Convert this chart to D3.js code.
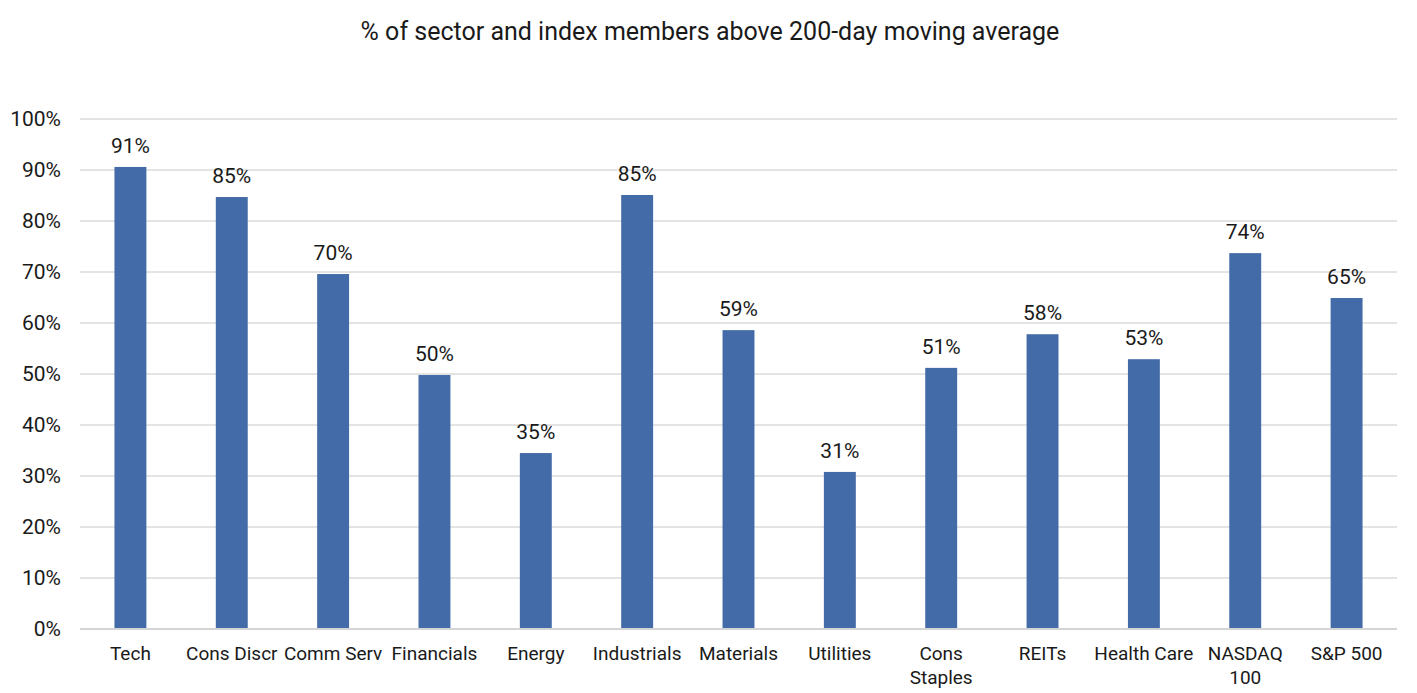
<!DOCTYPE html>
<html>
<head>
<meta charset="utf-8">
<script src="https://cdn.jsdelivr.net/npm/d3@7"></script>
<style>
  body { margin: 0; background: #fff; }
  text { font-family: Roboto, "Noto Sans", sans-serif; fill: #1a1a1a; }
</style>
</head>
<body>
<svg id="chart" width="1417" height="693"></svg>
<script>
// data
const categories = ["Tech", "Cons Discr", "Comm Serv", "Financials", "Energy", "Industrials",
  "Materials", "Utilities", "Cons Staples", "REITs", "Health Care", "NASDAQ 100", "S&P 500"];
// split labels for the two-line ones
const catLines = [["Tech"], ["Cons Discr"], ["Comm Serv"], ["Financials"], ["Energy"], ["Industrials"],
  ["Materials"], ["Utilities"], ["Cons", "Staples"], ["REITs"], ["Health Care"], ["NASDAQ", "100"], ["S&P 500"]];
const values = [90.6, 84.7, 69.6, 49.8, 34.5, 85.1, 58.6, 30.8, 51.2, 57.8, 52.9, 73.7, 64.9];
const yTicks = [0, 10, 20, 30, 40, 50, 60, 70, 80, 90, 100];

const svg = d3.select("#chart");
const plotLeft = 80, plotRight = 1397, plotTop = 119, plotBottom = 629;

const x = d3.scaleBand().domain(categories).range([plotLeft, plotRight]).paddingInner(0.685).paddingOuter(0.34);
const y = d3.scaleLinear().domain([0, 100]).range([plotBottom, plotTop]);

// title
svg.append("text")
  .attr("x", 710).attr("y", 40)
  .attr("text-anchor", "middle")
  .style("font-size", "25px")
  .text("% of sector and index members above 200-day moving average");

// gridlines
svg.append("g").selectAll("line")
  .data(yTicks.filter(d => d > 0))
  .join("line")
  .attr("x1", plotLeft).attr("x2", plotRight)
  .attr("y1", d => y(d)).attr("y2", d => y(d))
  .attr("stroke", "#c8c8c8").attr("stroke-width", 1);

// y tick labels
svg.append("g").selectAll("text")
  .data(yTicks)
  .join("text")
  .attr("x", 61).attr("y", d => y(d) + 7)
  .attr("text-anchor", "end")
  .style("font-size", "21px")
  .text(d => d + "%");

// bars
svg.append("g").selectAll("rect")
  .data(values)
  .join("rect")
  .attr("x", (d, i) => x(categories[i]))
  .attr("width", x.bandwidth())
  .attr("y", d => y(d))
  .attr("height", d => y(0) - y(d))
  .attr("fill", "#436ba8");

// baseline
svg.append("line")
  .attr("x1", plotLeft).attr("x2", plotRight)
  .attr("y1", y(0)).attr("y2", y(0))
  .attr("stroke", "#d4d4d4").attr("stroke-width", 2);

// value labels
svg.append("g").selectAll("text")
  .data(values)
  .join("text")
  .attr("x", (d, i) => x(categories[i]) + x.bandwidth() / 2)
  .attr("y", d => y(d) - 14)
  .attr("text-anchor", "middle")
  .style("font-size", "21px")
  .text(d => Math.round(d) + "%");

// category labels
const cat = svg.append("g").selectAll("text")
  .data(categories)
  .join("text")
  .attr("x", d => x(d) + x.bandwidth() / 2)
  .attr("y", 660)
  .attr("text-anchor", "middle")
  .style("font-size", "19px");
cat.each(function (d, i) {
  d3.select(this).selectAll("tspan")
    .data(catLines[i])
    .join("tspan")
    .attr("x", x(d) + x.bandwidth() / 2)
    .attr("dy", (t, j) => j === 0 ? 0 : 24)
    .text(t => t);
});
</script>
</body>
</html>
